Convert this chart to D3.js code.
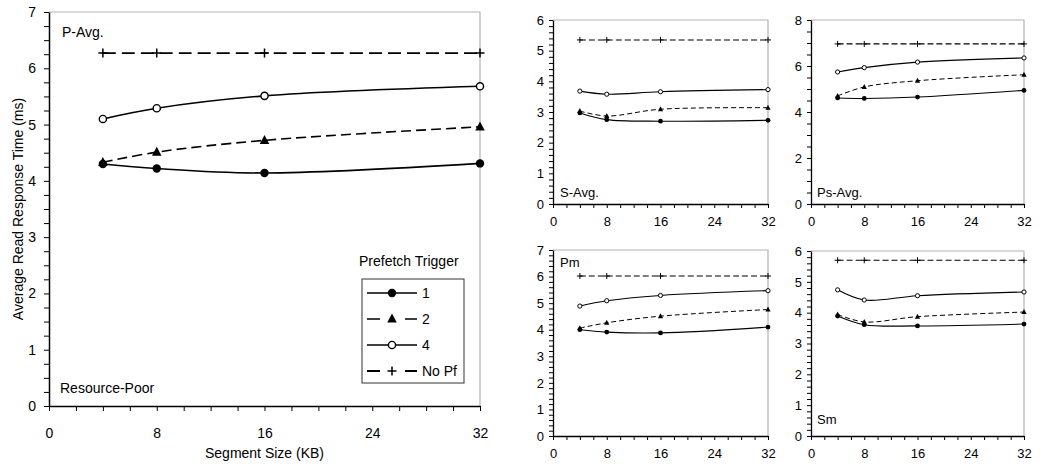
<!DOCTYPE html>
<html>
<head>
<meta charset="utf-8">
<script src="https://cdn.jsdelivr.net/npm/d3@7"></script>
<style>
  html, body { margin: 0; padding: 0; background: #fff; }
  svg { display: block; font-family: "Liberation Sans", Arial, Helvetica, sans-serif; }
</style>
</head>
<body>
<svg id="chart" width="1040" height="472"></svg>
<script>
// ---------------- DATA ----------------
const segmentSizes = [4, 8, 16, 32];
const xTickValues = [0, 8, 16, 24, 32];
const seriesNames = ["1", "2", "4", "No Pf"];
const legendTitle = "Prefetch Trigger";
const xAxisTitle = "Segment Size (KB)";
const yAxisTitle = "Average Read Response Time (ms)";

// P-Avg. (Resource-Poor, main panel)
const pAvgTrig1 = [4.30, 4.22, 4.14, 4.31];
const pAvgTrig2 = [4.33, 4.51, 4.72, 4.96];
const pAvgTrig4 = [5.10, 5.29, 5.51, 5.68];
const pAvgNoPf  = [6.27, 6.27, 6.27, 6.27];

// S-Avg.
const sAvgTrig1 = [2.97, 2.75, 2.70, 2.73];
const sAvgTrig2 = [3.03, 2.87, 3.09, 3.14];
const sAvgTrig4 = [3.68, 3.58, 3.66, 3.73];
const sAvgNoPf  = [5.35, 5.35, 5.35, 5.35];

// Ps-Avg.
const psAvgTrig1 = [4.61, 4.59, 4.65, 4.94];
const psAvgTrig2 = [4.70, 5.09, 5.36, 5.62];
const psAvgTrig4 = [5.74, 5.93, 6.17, 6.35];
const psAvgNoPf  = [6.96, 6.96, 6.96, 6.96];

// Pm
const pmTrig1 = [4.00, 3.91, 3.88, 4.10];
const pmTrig2 = [4.06, 4.26, 4.51, 4.76];
const pmTrig4 = [4.89, 5.09, 5.29, 5.47];
const pmNoPf  = [6.02, 6.02, 6.02, 6.02];

// Sm
const smTrig1 = [3.89, 3.61, 3.57, 3.63];
const smTrig2 = [3.94, 3.70, 3.87, 4.02];
const smTrig4 = [4.74, 4.41, 4.55, 4.67];
const smNoPf  = [5.70, 5.70, 5.70, 5.70];

// Y axis tick labels / domains per panel
const pAvgYTicks  = [0, 1, 2, 3, 4, 5, 6, 7];
const sAvgYTicks  = [0, 1, 2, 3, 4, 5, 6];
const psAvgYTicks = [0, 2, 4, 6, 8];
const pmYTicks    = [0, 1, 2, 3, 4, 5, 6, 7];
const smYTicks    = [0, 1, 2, 3, 4, 5, 6];

const panelLabels = ["P-Avg.", "S-Avg.", "Ps-Avg.", "Pm", "Sm"];
const mainSubLabel = "Resource-Poor";

// ---------------- LAYOUT / STYLE ----------------
const svg = d3.select("#chart");
svg.append("rect").attr("width", 1040).attr("height", 472).attr("fill", "#fff");

const markerKinds = ["dot", "tri", "ring", "plus"];

const panels = [
  { label: panelLabels[0], series: [pAvgTrig1, pAvgTrig2, pAvgTrig4, pAvgNoPf], yTicks: pAvgYTicks, minorStep: 0.25,
    left: 49, right: 480, top: 12, bottom: 406, big: true,
    labelPos: [62, 37], tickFont: 14 },
  { label: panelLabels[1], series: [sAvgTrig1, sAvgTrig2, sAvgTrig4, sAvgNoPf], yTicks: sAvgYTicks, minorStep: 0.2,
    left: 553, right: 768, top: 20, bottom: 204, big: false,
    labelPos: [560, 197], tickFont: 13 },
  { label: panelLabels[2], series: [psAvgTrig1, psAvgTrig2, psAvgTrig4, psAvgNoPf], yTicks: psAvgYTicks, minorStep: 0.5,
    left: 811, right: 1024, top: 20, bottom: 204, big: false,
    labelPos: [817, 197], tickFont: 13 },
  { label: panelLabels[3], series: [pmTrig1, pmTrig2, pmTrig4, pmNoPf], yTicks: pmYTicks, minorStep: 0.2,
    left: 553, right: 768, top: 250, bottom: 436, big: false,
    labelPos: [560, 267], tickFont: 13 },
  { label: panelLabels[4], series: [smTrig1, smTrig2, smTrig4, smNoPf], yTicks: smYTicks, minorStep: 0.2,
    left: 811, right: 1024, top: 251, bottom: 436, big: false,
    labelPos: [817, 424], tickFont: 13 }
];

function drawMarker(g, kind, cx, cy, big) {
  const s = big ? 1 : 0.55;
  if (kind === "dot") {
    g.append("circle").attr("cx", cx).attr("cy", cy).attr("r", big ? 4.2 : 2.4).attr("fill", "#000");
  } else if (kind === "tri") {
    const h = 9 * s, w = 9.5 * s;
    g.append("path")
      .attr("d", `M${cx},${cy - h * 0.6}L${cx + w / 2},${cy + h * 0.4}L${cx - w / 2},${cy + h * 0.4}Z`)
      .attr("fill", "#000");
  } else if (kind === "ring") {
    g.append("circle").attr("cx", cx).attr("cy", cy).attr("r", big ? 3.6 : 2.1)
      .attr("fill", "#fff").attr("stroke", "#000").attr("stroke-width", big ? 1.4 : 1);
  } else if (kind === "plus") {
    const a = big ? 4.5 : 3;
    g.append("path")
      .attr("d", `M${cx - a},${cy}H${cx + a}M${cx},${cy - a}V${cy + a}`)
      .attr("stroke", "#000").attr("stroke-width", big ? 1.5 : 1).attr("fill", "none");
  }
}

function seriesStyle(i, big) {
  if (big) {
    return [
      { w: 1.6, dash: null },
      { w: 1.6, dash: "10,5" },
      { w: 1.6, dash: null },
      { w: 1.8, dash: "13,6" }
    ][i];
  }
  return [
    { w: 1.1, dash: null },
    { w: 1.0, dash: "5,3" },
    { w: 1.1, dash: null },
    { w: 1.1, dash: "6,3" }
  ][i];
}

panels.forEach(p => {
  const g = svg.append("g");
  const x = d3.scaleLinear().domain([0, 32]).range([p.left, p.right]);
  const yMax = p.yTicks[p.yTicks.length - 1];
  const y = d3.scaleLinear().domain([0, yMax]).range([p.bottom, p.top]);

  // plot-area border (top & right, light grey)
  g.append("path")
    .attr("d", `M${p.left},${p.top}H${p.right}V${p.bottom}`)
    .attr("fill", "none").attr("stroke", "#b4b4b4").attr("stroke-width", 1.2);

  const tickLen = p.big ? 5 : 4;

  // minor y ticks
  const minorY = d3.range(0, yMax + 1e-9, p.minorStep).filter(v => !p.yTicks.some(t => Math.abs(t - v) < 1e-6));
  g.append("g").attr("transform", `translate(${p.left},0)`)
    .call(d3.axisLeft(y).tickValues(minorY).tickSize(tickLen).tickFormat("").tickSizeOuter(0))
    .call(a => a.select(".domain").remove())
    .call(a => a.selectAll("line").attr("stroke", "#000").attr("stroke-width", 1));

  // major y axis
  g.append("g").attr("transform", `translate(${p.left},0)`)
    .call(d3.axisLeft(y).tickValues(p.yTicks).tickSize(tickLen).tickSizeOuter(0).tickPadding(p.big ? 8 : 5).tickFormat(d3.format("d")))
    .call(a => a.select(".domain").attr("stroke", "#000").attr("stroke-width", p.big ? 1.5 : 1.3))
    .call(a => a.selectAll("line").attr("stroke", "#000").attr("stroke-width", 1))
    .call(a => a.selectAll("text").attr("font-size", p.tickFont).attr("fill", "#000")
      .attr("font-family", "'Liberation Sans', Arial, sans-serif"));

  // x axis: minor ticks every 2
  const minorX = d3.range(0, 33, 2).filter(v => !xTickValues.includes(v));
  g.append("g").attr("transform", `translate(0,${p.bottom})`)
    .call(d3.axisBottom(x).tickValues(minorX).tickSize(tickLen).tickFormat("").tickSizeOuter(0))
    .call(a => a.select(".domain").remove())
    .call(a => a.selectAll("line").attr("stroke", "#000").attr("stroke-width", 1));

  g.append("g").attr("transform", `translate(0,${p.bottom})`)
    .call(d3.axisBottom(x).tickValues(xTickValues).tickSize(tickLen).tickSizeOuter(0).tickPadding(p.big ? 17 : 9).tickFormat(d3.format("d")))
    .call(a => a.select(".domain").attr("stroke", "#000").attr("stroke-width", p.big ? 1.5 : 1.3))
    .call(a => a.selectAll("line").attr("stroke", "#000").attr("stroke-width", 1))
    .call(a => a.selectAll("text").attr("font-size", p.tickFont).attr("fill", "#000")
      .attr("font-family", "'Liberation Sans', Arial, sans-serif"));

  // series lines
  const line = d3.line()
    .x((d, i) => x(segmentSizes[i]))
    .y(d => y(d))
    .curve(d3.curveCatmullRom.alpha(0.5));

  // draw in order: NoPf, 4, 2, 1 so solid "1" sits on top
  [3, 2, 1, 0].forEach(si => {
    const st = seriesStyle(si, p.big);
    g.append("path")
      .attr("d", line(p.series[si]))
      .attr("fill", "none")
      .attr("stroke", "#000")
      .attr("stroke-width", st.w)
      .attr("stroke-dasharray", st.dash);
  });
  [3, 2, 1, 0].forEach(si => {
    p.series[si].forEach((v, i) => drawMarker(g, markerKinds[si], x(segmentSizes[i]), y(v), p.big));
  });

  // panel label
  g.append("text").attr("x", p.labelPos[0]).attr("y", p.labelPos[1])
    .attr("font-size", p.big ? 14 : 13).attr("fill", "#000").text(p.label);

  if (p.big) {
    g.append("text").attr("x", 60).attr("y", 393)
      .attr("font-size", 14).attr("fill", "#000").text(mainSubLabel);

    g.append("text")
      .attr("x", (p.left + p.right) / 2).attr("y", 458)
      .attr("text-anchor", "middle").attr("font-size", 14).attr("fill", "#000")
      .text(xAxisTitle);

    g.append("text")
      .attr("transform", `translate(23,209) rotate(-90)`)
      .attr("text-anchor", "middle").attr("font-size", 14).attr("fill", "#000")
      .text(yAxisTitle);

    // legend
    const lg = g.append("g");
    lg.append("text").attr("x", 359).attr("y", 266).attr("font-size", 14).attr("fill", "#000").text(legendTitle);
    lg.append("rect").attr("x", 362).attr("y", 279).attr("width", 102).attr("height", 104)
      .attr("fill", "#fff").attr("stroke", "#333").attr("stroke-width", 1);
    const rowY = [293, 319, 345, 371];
    seriesNames.forEach((name, si) => {
      const st = seriesStyle(si, true);
      const yy = rowY[si];
      lg.append("line").attr("x1", 367).attr("x2", 417).attr("y1", yy).attr("y2", yy)
        .attr("stroke", "#000").attr("stroke-width", st.w)
        .attr("stroke-dasharray", (si === 1 || si === 3) ? "13,25,12" : null);
      drawMarker(lg, markerKinds[si], 392, yy, true);
      lg.append("text").attr("x", 422).attr("y", yy + 5).attr("font-size", 14).attr("fill", "#000").text(name);
    });
  }
});
</script>
</body>
</html>
